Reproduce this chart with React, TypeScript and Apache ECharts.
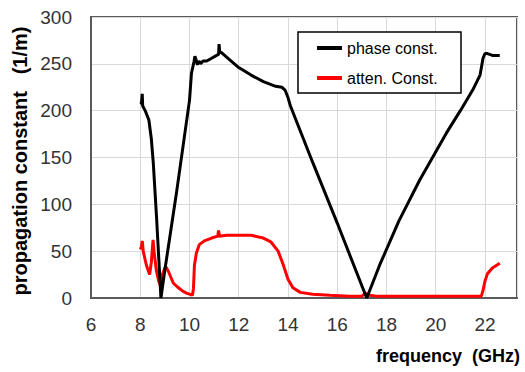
import React, { useEffect, useRef } from "react";
import * as echarts from "echarts";

const phaseFreq = [8.0, 8.05, 8.08, 8.1, 8.2, 8.35, 8.45, 8.53, 8.66, 8.84, 9.0, 9.47, 10.0, 10.08, 10.18, 10.22, 10.27, 10.32, 10.38, 10.45, 10.55, 10.7, 10.9, 11.1, 11.18, 11.2, 11.23, 11.3, 11.6, 12.0, 12.5, 13.0, 13.5, 13.75, 13.88, 14.0, 14.1, 15.0, 16.0, 17.0, 17.2, 17.72, 18.5, 19.35, 20.43, 21.0, 21.5, 21.8, 21.92, 22.0, 22.1, 22.3, 22.6];
const phaseVal = [207, 208, 218, 205, 200, 190, 170, 144, 87, 0, 30, 112, 211, 240, 252, 258, 254, 249, 253, 250, 253, 253, 256, 259, 260, 271, 262, 262, 255, 246, 238, 231, 226, 225, 222, 214, 205, 145, 80, 13, 0, 35, 82, 126, 176, 200, 222, 238, 256, 261, 261, 259, 259];

const attenFreq = [8.0, 8.05, 8.08, 8.12, 8.25, 8.38, 8.45, 8.52, 8.56, 8.65, 8.75, 8.84, 8.9, 9.0, 9.05, 9.15, 9.34, 9.5, 9.74, 9.9, 10.12, 10.16, 10.2, 10.28, 10.4, 10.6, 10.9, 11.15, 11.18, 11.22, 11.5, 12.0, 12.5, 13.0, 13.3, 13.6, 13.8, 14.0, 14.2, 14.5, 15.0, 15.7, 16.5, 17.0, 17.15, 17.3, 17.6, 19.0, 20.0, 21.0, 21.85, 21.92, 22.0, 22.1, 22.3, 22.6];
const attenVal = [52, 55, 61, 50, 35, 25, 38, 62, 50, 30, 18, 12, 25, 32, 33, 28, 16, 12, 7, 5, 3, 10, 35, 48, 57, 61, 64, 66, 72, 66, 67, 67, 67, 64, 60, 50, 36, 20, 11, 6, 4, 3, 2, 2, 5, 3, 2, 2, 2, 2, 2, 8, 18, 26, 32, 37];

const seriesNames = ["phase const.", "atten. Const."];
const xTitle = "frequency  (GHz)";
const yTitle = "propagation constant   (1/m)";

const FONT = "'Liberation Sans', Arial, sans-serif";

export default function App() {
  const ref = useRef<HTMLDivElement>(null);
  useEffect(() => {
    if (!ref.current) return;
    const chart = echarts.init(ref.current, undefined, { renderer: "svg" });
    const phaseData = phaseFreq.map((f, i) => [f, phaseVal[i]]);
    const attenData = attenFreq.map((f, i) => [f, attenVal[i]]);
    chart.setOption({
      animation: false,
      backgroundColor: "#ffffff",
      grid: {
        left: 91,
        top: 17,
        right: 8,
        bottom: 74,
        show: true,
        borderColor: "#595959",
        borderWidth: 2,
        backgroundColor: "transparent",
      },
      xAxis: {
        type: "value",
        min: 6,
        max: 23.3,
        interval: 2,
        axisLine: { show: true, lineStyle: { color: "#595959", width: 2 } },
        axisTick: { show: false },
        splitLine: { show: true, lineStyle: { color: "#d9d9d9", width: 1 } },
        axisLabel: {
          color: "#333",
          fontFamily: FONT,
          fontSize: 19,
          margin: 17,
          showMaxLabel: false,
          formatter: (v: number) => (Math.abs(v - Math.round(v)) < 1e-6 ? String(Math.round(v)) : ""),
        },
      },
      yAxis: {
        type: "value",
        min: 0,
        max: 300,
        interval: 50,
        axisLine: { show: true, lineStyle: { color: "#595959", width: 2 } },
        axisTick: { show: false },
        splitLine: { show: true, lineStyle: { color: "#d9d9d9", width: 1 } },
        axisLabel: { color: "#333", fontFamily: FONT, fontSize: 19, margin: 19 },
      },
      legend: {
        orient: "vertical",
        left: 317,
        top: 40,
        padding: 0,
        itemGap: 14,
        itemWidth: 25,
        itemHeight: 4,
        icon: "rect",
        z: 20,
        data: seriesNames,
        textStyle: { fontFamily: FONT, fontSize: 16, color: "#000", lineHeight: 16 },
      },
      graphic: [
        {
          type: "rect",
          z: 10,
          shape: { x: 298, y: 32, width: 163, height: 61 },
          style: { fill: "#ffffff", stroke: "#000000", lineWidth: 1.5 },
        },
        {
          type: "text",
          x: 20,
          y: 161,
          rotation: Math.PI / 2,
          style: {
            text: yTitle,
            fontFamily: FONT,
            fontSize: 20,
            fontWeight: "bold",
            fill: "#000",
            align: "center",
            verticalAlign: "middle",
          },
        },
        {
          type: "text",
          x: 520,
          y: 356,
          style: {
            text: xTitle,
            fontFamily: FONT,
            fontSize: 18,
            fontWeight: "bold",
            fill: "#000",
            align: "right",
            verticalAlign: "middle",
          },
        },
      ],
      series: [
        {
          name: seriesNames[0],
          type: "line",
          data: phaseData,
          showSymbol: false,
          symbol: "none",
          lineStyle: { color: "#000000", width: 3 },
          itemStyle: { color: "#000000" },
          z: 3,
        },
        {
          name: seriesNames[1],
          type: "line",
          data: attenData,
          showSymbol: false,
          symbol: "none",
          lineStyle: { color: "#ff0000", width: 3 },
          itemStyle: { color: "#ff0000" },
          z: 2,
        },
      ],
    });
    return () => chart.dispose();
  }, []);
  return <div ref={ref} style={{ width: 525, height: 372, position: "absolute", left: 0, top: 0 }} />;
}
